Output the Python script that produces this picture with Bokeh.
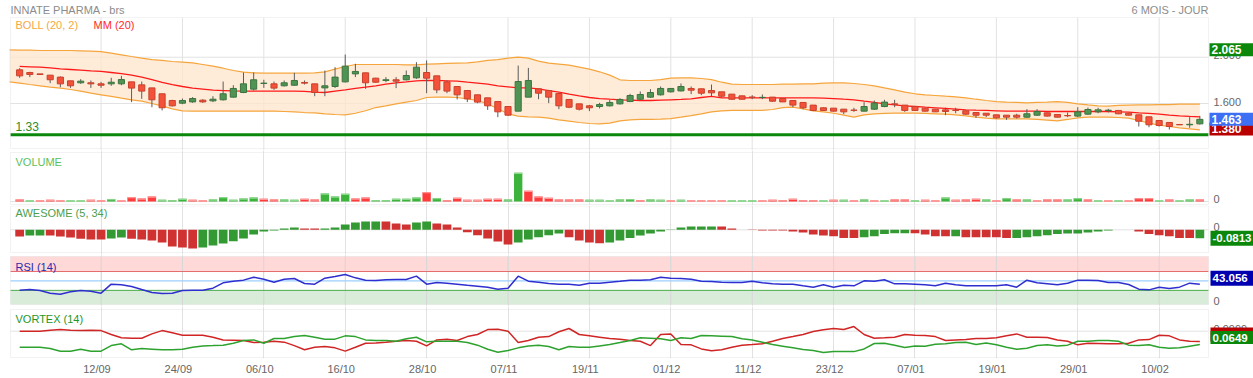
from bokeh.plotting import figure
from bokeh.layouts import column
from bokeh.models import (Range1d, FixedTicker, Label, BoxAnnotation, ColumnDataSource)
from bokeh.embed import file_html
from bokeh.resources import INLINE

FONT = "Liberation Sans"

# ---------------- data ----------------
date_labels = ["12/09", "24/09", "06/10", "16/10", "28/10", "07/11", "19/11",
               "01/12", "11/12", "23/12", "07/01", "19/01", "29/01", "10/02"]

open_ = [1.891, 1.868, 1.856, 1.845, 1.828, 1.796, 1.779, 1.779, 1.770, 1.770,
         1.770, 1.787, 1.761, 1.735, 1.684, 1.626, 1.603, 1.614, 1.629, 1.623,
         1.632, 1.655, 1.695, 1.724, 1.773, 1.770, 1.753, 1.758, 1.782, 1.770,
         1.735, 1.747, 1.787, 1.856, 1.865, 1.819, 1.799, 1.805, 1.805, 1.822,
         1.868, 1.839, 1.787, 1.747, 1.712, 1.675, 1.649, 1.617, 1.574, 1.534,
         1.655, 1.727, 1.712, 1.686, 1.635, 1.597, 1.580, 1.574, 1.580, 1.597,
         1.617, 1.637, 1.655, 1.675, 1.701, 1.709, 1.730, 1.727, 1.712, 1.701,
         1.681, 1.666, 1.655, 1.652, 1.655, 1.643, 1.626, 1.609, 1.586, 1.563,
         1.560, 1.551, 1.543, 1.534, 1.551, 1.574, 1.597, 1.586, 1.574, 1.560,
         1.551, 1.545, 1.542, 1.537, 1.522, 1.516, 1.502, 1.499, 1.499, 1.482,
         1.499, 1.519, 1.505, 1.496, 1.491, 1.508, 1.528, 1.539, 1.540, 1.516,
         1.502, 1.485, 1.453, 1.436, 1.418, 1.416, 1.424]
high = [1.905, 1.874, 1.857, 1.845, 1.834, 1.796, 1.810, 1.799, 1.787, 1.822,
        1.839, 1.787, 1.790, 1.735, 1.684, 1.632, 1.643, 1.655, 1.637, 1.663,
        1.790, 1.758, 1.868, 1.868, 1.805, 1.790, 1.799, 1.865, 1.799, 1.770,
        1.885, 1.914, 2.023, 1.943, 1.865, 1.822, 1.828, 1.828, 1.885, 1.957,
        1.972, 1.839, 1.799, 1.747, 1.712, 1.675, 1.649, 1.617, 1.574, 1.928,
        1.908, 1.727, 1.718, 1.686, 1.635, 1.597, 1.588, 1.606, 1.632, 1.646,
        1.684, 1.704, 1.724, 1.747, 1.730, 1.773, 1.747, 1.727, 1.764, 1.701,
        1.681, 1.669, 1.672, 1.678, 1.655, 1.643, 1.626, 1.609, 1.586, 1.565,
        1.560, 1.551, 1.563, 1.612, 1.626, 1.632, 1.632, 1.586, 1.574, 1.560,
        1.551, 1.563, 1.563, 1.537, 1.522, 1.516, 1.502, 1.499, 1.511, 1.551,
        1.551, 1.522, 1.505, 1.522, 1.568, 1.565, 1.563, 1.554, 1.542, 1.519,
        1.502, 1.485, 1.453, 1.436, 1.420, 1.482, 1.493]
low = [1.822, 1.828, 1.849, 1.776, 1.741, 1.735, 1.770, 1.735, 1.735, 1.753,
       1.758, 1.612, 1.640, 1.568, 1.540, 1.574, 1.594, 1.606, 1.606, 1.612,
       1.626, 1.652, 1.689, 1.712, 1.735, 1.718, 1.747, 1.753, 1.764, 1.663,
       1.663, 1.735, 1.782, 1.828, 1.727, 1.779, 1.784, 1.733, 1.799, 1.813,
       1.689, 1.689, 1.689, 1.635, 1.612, 1.603, 1.545, 1.482, 1.493, 1.534,
       1.655, 1.637, 1.603, 1.551, 1.560, 1.540, 1.534, 1.557, 1.574, 1.591,
       1.612, 1.632, 1.649, 1.669, 1.695, 1.704, 1.681, 1.672, 1.661, 1.655,
       1.632, 1.635, 1.637, 1.637, 1.614, 1.612, 1.568, 1.551, 1.534, 1.537,
       1.531, 1.508, 1.528, 1.531, 1.545, 1.568, 1.568, 1.528, 1.537, 1.531,
       1.528, 1.499, 1.516, 1.502, 1.476, 1.482, 1.470, 1.459, 1.470, 1.476,
       1.493, 1.488, 1.479, 1.482, 1.482, 1.502, 1.516, 1.522, 1.508, 1.496,
       1.401, 1.395, 1.401, 1.375, 1.414, 1.390, 1.418]
close = [1.839, 1.851, 1.851, 1.805, 1.770, 1.753, 1.793, 1.770, 1.758, 1.784,
         1.807, 1.733, 1.707, 1.632, 1.563, 1.580, 1.626, 1.643, 1.614, 1.637,
         1.684, 1.730, 1.770, 1.805, 1.776, 1.733, 1.779, 1.799, 1.776, 1.695,
         1.753, 1.828, 1.923, 1.877, 1.779, 1.784, 1.805, 1.793, 1.842, 1.914,
         1.819, 1.718, 1.707, 1.675, 1.640, 1.612, 1.580, 1.528, 1.499, 1.790,
         1.799, 1.689, 1.655, 1.580, 1.568, 1.551, 1.563, 1.591, 1.609, 1.635,
         1.669, 1.678, 1.695, 1.730, 1.730, 1.747, 1.715, 1.689, 1.692, 1.663,
         1.637, 1.637, 1.654, 1.653, 1.620, 1.614, 1.586, 1.563, 1.540, 1.540,
         1.534, 1.528, 1.541, 1.574, 1.603, 1.612, 1.592, 1.540, 1.540, 1.534,
         1.528, 1.531, 1.540, 1.508, 1.499, 1.499, 1.476, 1.482, 1.482, 1.511,
         1.531, 1.491, 1.482, 1.494, 1.528, 1.548, 1.545, 1.542, 1.511, 1.499,
         1.447, 1.416, 1.410, 1.401, 1.416, 1.420, 1.463]

# Bollinger (20, 2) bands start one session before the first candle
boll_upper = [2.064, 2.061, 2.061, 2.058, 2.058, 2.058, 2.058, 2.055, 2.052, 2.049,
              2.035, 2.021, 2.006, 1.992, 1.980, 1.972, 1.963, 1.957, 1.951, 1.937,
              1.923, 1.905, 1.885, 1.871, 1.865, 1.862, 1.862, 1.862, 1.862, 1.862,
              1.865, 1.874, 1.897, 1.920, 1.937, 1.937, 1.937, 1.937, 1.937, 1.934,
              1.934, 1.940, 1.943, 1.946, 1.949, 1.951, 1.960, 1.972, 1.980, 1.992,
              2.000, 1.992, 1.966, 1.949, 1.940, 1.931, 1.914, 1.897, 1.874, 1.845,
              1.805, 1.799, 1.799, 1.799, 1.807, 1.819, 1.822, 1.822, 1.816, 1.807,
              1.784, 1.767, 1.764, 1.764, 1.764, 1.764, 1.767, 1.767, 1.770, 1.770,
              1.776, 1.779, 1.779, 1.773, 1.764, 1.753, 1.735, 1.718, 1.698, 1.684,
              1.675, 1.669, 1.663, 1.658, 1.649, 1.637, 1.626, 1.617, 1.612, 1.609,
              1.606, 1.609, 1.612, 1.617, 1.609, 1.597, 1.588, 1.580, 1.577, 1.583,
              1.586, 1.588, 1.588, 1.591, 1.591, 1.594, 1.594, 1.594]
boll_lower = [1.787, 1.776, 1.764, 1.753, 1.741, 1.733, 1.721, 1.707, 1.689, 1.675,
              1.661, 1.646, 1.632, 1.620, 1.600, 1.580, 1.554, 1.537, 1.534, 1.534,
              1.534, 1.534, 1.534, 1.534, 1.534, 1.534, 1.534, 1.531, 1.528, 1.522,
              1.519, 1.511, 1.505, 1.502, 1.516, 1.537, 1.565, 1.580, 1.597, 1.612,
              1.626, 1.652, 1.655, 1.655, 1.652, 1.640, 1.626, 1.597, 1.554, 1.511,
              1.491, 1.485, 1.482, 1.473, 1.459, 1.447, 1.436, 1.427, 1.424, 1.430,
              1.450, 1.459, 1.462, 1.462, 1.465, 1.470, 1.482, 1.496, 1.511, 1.528,
              1.537, 1.540, 1.540, 1.540, 1.540, 1.548, 1.565, 1.568, 1.554, 1.537,
              1.528, 1.516, 1.499, 1.482, 1.502, 1.511, 1.514, 1.516, 1.516, 1.516,
              1.514, 1.511, 1.508, 1.502, 1.493, 1.482, 1.473, 1.467, 1.467, 1.467,
              1.467, 1.462, 1.456, 1.450, 1.462, 1.476, 1.482, 1.482, 1.482, 1.479,
              1.473, 1.453, 1.430, 1.413, 1.401, 1.390, 1.381, 1.372]
mm20 = [1.920, 1.917, 1.914, 1.908, 1.900, 1.894, 1.888, 1.882, 1.877, 1.868,
        1.859, 1.845, 1.828, 1.807, 1.782, 1.764, 1.747, 1.733, 1.724, 1.715,
        1.712, 1.709, 1.707, 1.707, 1.707, 1.707, 1.707, 1.707, 1.704, 1.698,
        1.695, 1.707, 1.718, 1.730, 1.741, 1.753, 1.767, 1.779, 1.787, 1.796,
        1.799, 1.799, 1.796, 1.793, 1.784, 1.776, 1.767, 1.753, 1.744, 1.735,
        1.735, 1.727, 1.712, 1.698, 1.681, 1.666, 1.652, 1.643, 1.637, 1.632,
        1.629, 1.626, 1.626, 1.629, 1.632, 1.635, 1.640, 1.652, 1.661, 1.649,
        1.649, 1.649, 1.649, 1.649, 1.649, 1.649, 1.649, 1.649, 1.649, 1.646,
        1.643, 1.637, 1.632, 1.620, 1.609, 1.597, 1.588, 1.580, 1.574, 1.568,
        1.563, 1.557, 1.551, 1.545, 1.542, 1.540, 1.537, 1.534, 1.534, 1.534,
        1.534, 1.531, 1.531, 1.531, 1.531, 1.531, 1.531, 1.531, 1.528, 1.525,
        1.519, 1.514, 1.508, 1.499, 1.493, 1.488, 1.485]

support_level = 1.33
last_high, last_price, last_low = 2.065, 1.463, 1.380
price_ticks = [1.6, 2.0]

volume_k = [150, 75, 75, 125, 75, 75, 75, 125, 75, 175,
            75, 325, 225, 375, 125, 100, 200, 125, 75, 150,
            325, 125, 225, 300, 200, 150, 150, 125, 200, 150,
            600, 375, 575, 225, 300, 100, 100, 200, 200, 300,
            700, 250, 100, 275, 125, 125, 200, 200, 150, 2150,
            800, 375, 275, 150, 150, 150, 125, 125, 75, 150,
            175, 100, 150, 125, 75, 125, 75, 75, 75, 75,
            75, 75, 75, 75, 125, 100, 200, 100, 100, 75,
            125, 125, 75, 150, 75, 75, 150, 150, 75, 125,
            75, 300, 125, 150, 200, 150, 75, 250, 150, 150,
            75, 150, 150, 150, 250, 150, 75, 75, 75, 75,
            250, 250, 75, 150, 75, 150, 150]
volume_dir = list("rgrrrggrrg" "rrrrgggrrg" "ggggrrggrr" "gggrrggggg"
                  "rgrrrrrrgg" "rrrrrrgggg" "grggrgrrrr" "gggrrrrrrg"
                  "rgrgrgrrgr" "rgrrrgrgrg" "rrrggrgrgr" "rrgrggr")

awesome = [-0.065, -0.055, -0.055, -0.055, -0.065, -0.075, -0.088, -0.094, -0.094, -0.085,
           -0.075, -0.088, -0.094, -0.104, -0.124, -0.163, -0.172, -0.182, -0.172, -0.153,
           -0.133, -0.111, -0.085, -0.046, -0.016, -0.007, 0.013, 0.023, 0.013, 0.013,
           0.013, 0.023, 0.052, 0.072, 0.081, 0.081, 0.081, 0.062, 0.052, 0.072,
           0.081, 0.062, 0.052, 0.023, -0.023, -0.052, -0.085, -0.114, -0.143, -0.124,
           -0.094, -0.072, -0.052, -0.036, -0.072, -0.104, -0.124, -0.130, -0.124, -0.104,
           -0.081, -0.055, -0.036, -0.016, -0.002, 0.023, 0.033, 0.033, 0.033, 0.033,
           0.013, 0.001, -0.001, -0.007, -0.007, -0.007, -0.016, -0.026, -0.046, -0.055,
           -0.062, -0.081, -0.081, -0.072, -0.062, -0.042, -0.033, -0.033, -0.033, -0.046,
           -0.062, -0.062, -0.062, -0.072, -0.072, -0.072, -0.072, -0.081, -0.081, -0.072,
           -0.062, -0.052, -0.042, -0.036, -0.036, -0.026, -0.016, -0.007, 0.000, 0.000,
           -0.016, -0.042, -0.052, -0.062, -0.081, -0.081, -0.0813]
awesome_dir = list("rggrrrrrrg" "grrrrrrrgg" "ggggggggrr" "ggggggrrrg"
                   "grrrrrrrrg" "ggggrrrrgg" "gggggggggr" "rrrrrrrrrr"
                   "rrrgggggrr" "rrgrrrrrgg" "gggggggggr" "rrrrrrg")

rsi14 = [30.4, 31.8, 29.7, 24.1, 21.9, 26.9, 29.7, 28.3, 24.1, 43.2,
         41.8, 38.2, 31.8, 25.5, 23.4, 24.1, 29.7, 30.4, 30.4, 34.7,
         46.0, 49.5, 51.7, 58.0, 53.8, 47.4, 53.8, 55.2, 44.6, 43.2,
         55.9, 59.4, 63.7, 56.6, 51.7, 51.0, 52.4, 53.1, 53.1, 60.2,
         43.2, 46.7, 45.3, 43.2, 41.0, 38.9, 36.8, 32.5, 34.7, 60.2,
         49.5, 47.4, 44.6, 43.2, 43.2, 41.0, 45.3, 45.3, 47.4, 49.5,
         51.7, 51.7, 52.4, 58.0, 55.9, 55.2, 53.8, 49.5, 48.8, 47.4,
         46.7, 46.7, 49.5, 46.0, 43.9, 43.2, 43.2, 39.6, 36.8, 41.8,
         36.8, 41.0, 39.6, 50.2, 49.5, 52.4, 43.9, 43.9, 43.2, 41.8,
         39.6, 45.3, 41.8, 39.6, 39.6, 39.6, 39.6, 41.8, 36.8, 51.7,
         46.0, 43.9, 41.8, 45.3, 51.7, 51.7, 51.0, 46.7, 46.7, 42.5,
         32.5, 31.1, 36.8, 34.0, 36.8, 45.3, 43.056]

vortex_minus = [1.000, 1.000, 1.000, 1.007, 1.011, 1.007, 1.004, 1.007, 1.004, 0.978,
                0.956, 0.953, 0.953, 0.982, 1.004, 0.989, 0.973, 0.973, 0.973, 0.960,
                0.942, 0.940, 0.938, 0.924, 0.927, 0.933, 0.927, 0.904, 0.876, 0.893,
                0.898, 0.889, 0.867, 0.893, 0.920, 0.922, 0.927, 0.933, 0.938, 0.933,
                0.902, 0.942, 0.947, 0.938, 0.964, 0.978, 1.011, 1.013, 1.000, 0.924,
                0.938, 0.960, 0.964, 0.996, 1.018, 0.978, 0.969, 0.960, 0.951, 0.947,
                0.938, 0.933, 0.904, 0.978, 0.982, 0.911, 0.909, 0.882, 0.869, 0.876,
                0.893, 0.907, 0.911, 0.916, 0.933, 0.951, 0.964, 0.978, 0.998, 1.009,
                1.018, 1.011, 1.031, 0.978, 0.953, 0.956, 0.960, 0.978, 0.973, 0.971,
                0.964, 0.938, 0.942, 0.944, 0.951, 0.951, 0.956, 0.969, 0.982, 0.960,
                0.960, 0.958, 0.942, 0.933, 0.909, 0.920, 0.918, 0.916, 0.916, 0.920,
                0.942, 0.944, 0.973, 0.969, 0.942, 0.933, 0.931]
vortex_plus = [0.893, 0.893, 0.893, 0.884, 0.867, 0.867, 0.880, 0.867, 0.867, 0.904,
               0.916, 0.876, 0.884, 0.880, 0.876, 0.876, 0.880, 0.893, 0.902, 0.904,
               0.907, 0.920, 0.938, 0.942, 0.920, 0.951, 0.951, 0.964, 0.971, 0.960,
               0.947, 0.947, 0.969, 0.964, 0.942, 0.938, 0.938, 0.933, 0.949, 0.960,
               0.929, 0.933, 0.933, 0.933, 0.924, 0.907, 0.880, 0.860, 0.871, 0.889,
               0.902, 0.907, 0.898, 0.876, 0.898, 0.893, 0.893, 0.902, 0.911, 0.924,
               0.938, 0.956, 0.953, 0.949, 0.938, 0.956, 0.951, 0.971, 0.969, 0.967,
               0.964, 0.949, 0.942, 0.927, 0.911, 0.900, 0.889, 0.878, 0.871, 0.858,
               0.864, 0.864, 0.864, 0.882, 0.918, 0.920, 0.907, 0.891, 0.902, 0.900,
               0.913, 0.916, 0.924, 0.927, 0.911, 0.922, 0.909, 0.893, 0.880, 0.887,
               0.904, 0.909, 0.902, 0.907, 0.933, 0.933, 0.938, 0.938, 0.933, 0.907,
               0.904, 0.909, 0.893, 0.887, 0.889, 0.900, 0.911]

# ---------------- layout helpers ----------------
N = len(close)
xs = list(range(N))
band_x = list(range(-1, N))
W = 1253
X_LEFT, X_RIGHT = -0.9, N - 0.15          # plotted panel edges (index units)
xr = Range1d(-1.883, 121.273)            # whole window width
PX_X = W / (xr.end - xr.start)           # pixels per index unit
grid_ticks = [8 * k for k in range(1, 15)]
label_ticks = [t - 0.4 for t in grid_ticks]

RED_C, GREEN_C = "#f4513a", "#4f9453"
GRID_C = "#e2e2e2"
BORDER_C = "#d4d4d4"
TICK_C = "#666666"


def make_fig(height, yr, bottom=0, xaxis=False, vgrid=True):
    p = figure(width=W, height=height, x_range=xr, y_range=yr,
               output_backend="svg", toolbar_location=None,
               y_axis_location=None,
               x_axis_location="below" if xaxis else None,
               min_border_left=0, min_border_right=0,
               min_border_top=0, min_border_bottom=bottom, title=None)
    p.outline_line_color = None
    p.ygrid.visible = False
    p.xgrid.ticker = FixedTicker(ticks=grid_ticks)
    p.xgrid.grid_line_color = GRID_C if vgrid else None
    if xaxis:
        xa = p.xaxis[0]
        xa.ticker = FixedTicker(ticks=label_ticks)
        xa.major_label_overrides = {t: d for t, d in zip(label_ticks, date_labels)}
        xa.axis_line_color = None
        xa.major_tick_line_color = None
        xa.minor_tick_line_color = None
        xa.major_tick_out = 0
        xa.major_tick_in = 0
        xa.minor_tick_out = 0
        xa.major_label_standoff = 4
        xa.major_label_text_font = FONT
        xa.major_label_text_font_size = "11px"
        xa.major_label_text_color = TICK_C
    return p


def panel_box(p, bottom, top):
    p.add_layout(BoxAnnotation(left=X_LEFT, right=X_RIGHT, bottom=bottom, top=top,
                               fill_alpha=0, line_color=BORDER_C, line_width=1))


def hlines(p, levels, color=GRID_C, width=1):
    p.segment(x0=[X_LEFT] * len(levels), x1=[X_RIGHT] * len(levels),
              y0=levels, y1=levels, line_color=color, line_width=width)


def text(p, x, y, s, color, size="11px", xo=0, yo=0, align="left", bold=False):
    p.add_layout(Label(x=x, y=y, x_offset=xo, y_offset=yo, text=s,
                       text_color=color, text_font=FONT, text_font_size=size,
                       text_align=align, text_baseline="middle",
                       text_font_style="bold" if bold else "normal"))


def tick_label(p, y, s, yo=2):
    text(p, X_RIGHT, y, s, TICK_C, xo=5, yo=yo)


def badge(p, y, s, bg, upp, yo=0, half_h=6.5, size="12px", gap=1.0):
    """value tag right of the panel; upp = data units per vertical pixel"""
    yc = y + yo * upp
    p.add_layout(BoxAnnotation(left=X_RIGHT + gap / PX_X, right=xr.end,
                               bottom=yc - half_h * upp, top=yc + half_h * upp,
                               fill_color=bg, fill_alpha=1.0, line_color=None))
    p.add_layout(Label(x=X_RIGHT, y=yc, x_offset=gap + 2, text=s,
                       text_color="white", text_font=FONT, text_font_size=size,
                       text_font_style="bold", text_align="left",
                       text_baseline="middle"))


# ---------------- main price panel ----------------
P1_BOT, P1_TOP = 1.211, 2.343
UPP1 = 1 / 115.7
p1 = make_fig(150, Range1d(1.1938, 2.4902), vgrid=False)
p1.segment(x0=grid_ticks, x1=grid_ticks, y0=[1.1938] * len(grid_ticks),
           y1=[P1_TOP] * len(grid_ticks), line_color=GRID_C, line_width=1)
hlines(p1, price_ticks)
p1.varea(x=band_x, y1=boll_lower, y2=boll_upper, fill_color="#fde6cc", fill_alpha=0.75)
p1.line(band_x, boll_upper, line_color="#f6a53c", line_width=1.2)
p1.line(band_x, boll_lower, line_color="#f6a53c", line_width=1.2)
p1.line(xs, mm20, line_color="#ff1a1a", line_width=1.3)

cs = ColumnDataSource(dict(
    x=xs, high=high, low=low,
    top=[max(o, c) for o, c in zip(open_, close)],
    bottom=[min(o, c) for o, c in zip(open_, close)],
    fill=[GREEN_C if c >= o else RED_C for o, c in zip(open_, close)],
    edge=["#3c7440" if c >= o else "#c9402c" for o, c in zip(open_, close)],
))
p1.segment(x0="x", y0="high", x1="x", y1="low", source=cs, line_color="#5b5b5b", line_width=1)
p1.vbar(x="x", top="top", bottom="bottom", width=0.6, source=cs,
        fill_color="fill", line_color="edge", line_width=1)

hlines(p1, [support_level], color="#0b870b", width=3)
panel_box(p1, P1_BOT, P1_TOP)
text(p1, X_LEFT, support_level, "1.33", "#2a8c2a", size="12px", xo=5, yo=8)
text(p1, X_LEFT, P1_TOP, "INNATE PHARMA - brs", "#8c8c8c", yo=8)
text(p1, X_RIGHT, P1_TOP, "6 MOIS - JOUR", "#8c8c8c", yo=8, align="right")
text(p1, X_LEFT, P1_TOP, "BOLL (20, 2)", "#f5a742", xo=5, yo=-7)
text(p1, X_LEFT, P1_TOP, "MM (20)", "#ff2a2a", xo=83, yo=-7)
for t in price_ticks:
    tick_label(p1, t, "%.3f" % t)
badge(p1, last_low, "1.380", "#b80000", UPP1)
badge(p1, last_price, "1.463", "#3d6ff5", UPP1)
badge(p1, last_high, "2.065", "#0b870b", UPP1)

# ---------------- volume ----------------
UPP2 = 75.0
p2 = make_fig(55, Range1d(-300, 3825))
hlines(p2, [0])
p2.vbar(x=xs, top=volume_k, bottom=0, width=0.82,
        fill_color=["#3cb43c" if d == "g" else "#ff3b3b" for d in volume_dir],
        line_color=None)
# lighter cap on top of every volume bar
p2.vbar(x=xs, top=volume_k, bottom=[v - 1.2 * UPP2 for v in volume_k], width=0.82,
        fill_color=["#8fd88f" if d == "g" else "#ff9a9a" for d in volume_dir],
        line_color=None)
panel_box(p2, -225, 3675)
text(p2, X_LEFT, 3675, "VOLUME", "#5cbf5c", xo=5, yo=-9)
tick_label(p2, 0, "0", yo=3)

# ---------------- awesome oscillator ----------------
UPP3 = 0.00975
p3 = make_fig(49, Range1d(-0.2408, 0.2369))
hlines(p3, [0])
p3.vbar(x=xs, top=awesome, bottom=0, width=0.86,
        fill_color=["#339a33" if d == "g" else "#d03232" for d in awesome_dir],
        line_color=None)
panel_box(p3, -0.2213, 0.232)
text(p3, X_LEFT, 0.232, "AWESOME (5, 34)", "#4e9e4e", xo=5, yo=-7)
tick_label(p3, 0, "0", yo=3)
badge(p3, awesome[-1], "-0.0813", "#0b870b", UPP3, half_h=7.5, size="11.5px", gap=2)

# ---------------- RSI ----------------
UPP4 = 1 / 0.471
p4 = make_fig(52, Range1d(-4.246, 106.16))
p4.add_layout(BoxAnnotation(left=X_LEFT, right=X_RIGHT, bottom=70, top=101.9,
                            fill_color="#ffd8d8", fill_alpha=1.0,
                            line_color=None, level="image"))
p4.add_layout(BoxAnnotation(left=X_LEFT, right=X_RIGHT, bottom=0, top=30,
                            fill_color="#d9ecd9", fill_alpha=1.0,
                            line_color=None, level="image"))
p4.segment(x0=grid_ticks, x1=grid_ticks, y0=[0] * len(grid_ticks),
           y1=[101.9] * len(grid_ticks), line_color="#d0d0d0", line_width=1, line_alpha=0.6)
hlines(p4, [70], color="#e56b6b")
hlines(p4, [50], color="#9ccfff", width=1.2)
hlines(p4, [30], color="#4aad4a")
p4.line(xs, rsi14, line_color="#2f2fcf", line_width=1.5)
panel_box(p4, 0, 101.9)
text(p4, X_LEFT, 101.9, "RSI (14)", "#2a2ab0", xo=5, yo=-10)
tick_label(p4, 0, "0", yo=4)
badge(p4, rsi14[-1], "43.056", "#0000b0", UPP4, yo=6, half_h=7.5, size="11.5px", gap=2)

# ---------------- Vortex ----------------
UPP5 = 1 / 150
p5 = make_fig(72, Range1d(0.818, 1.1647), bottom=20, xaxis=True)
hlines(p5, [1.0])
p5.line(xs, vortex_minus, line_color="#d02525", line_width=1.5)
p5.line(xs, vortex_plus, line_color="#2ea22e", line_width=1.5)
panel_box(p5, 0.8247, 1.1447)
text(p5, X_LEFT, 1.1447, "VORTEX (14)", "#1f961f", xo=5, yo=-10)
tick_label(p5, 1.0, "0.9999", yo=2)
badge(p5, vortex_minus[-1], "0.9310", "#b80000", UPP5, yo=7, half_h=7, size="11.5px", gap=2)
badge(p5, vortex_plus[-1], "0.0649", "#0b870b", UPP5, yo=7, half_h=6.5, size="11.5px", gap=2)

layout = column(p1, p2, p3, p4, p5, spacing=0)
open("out.html", "w").write(file_html(layout, INLINE))
